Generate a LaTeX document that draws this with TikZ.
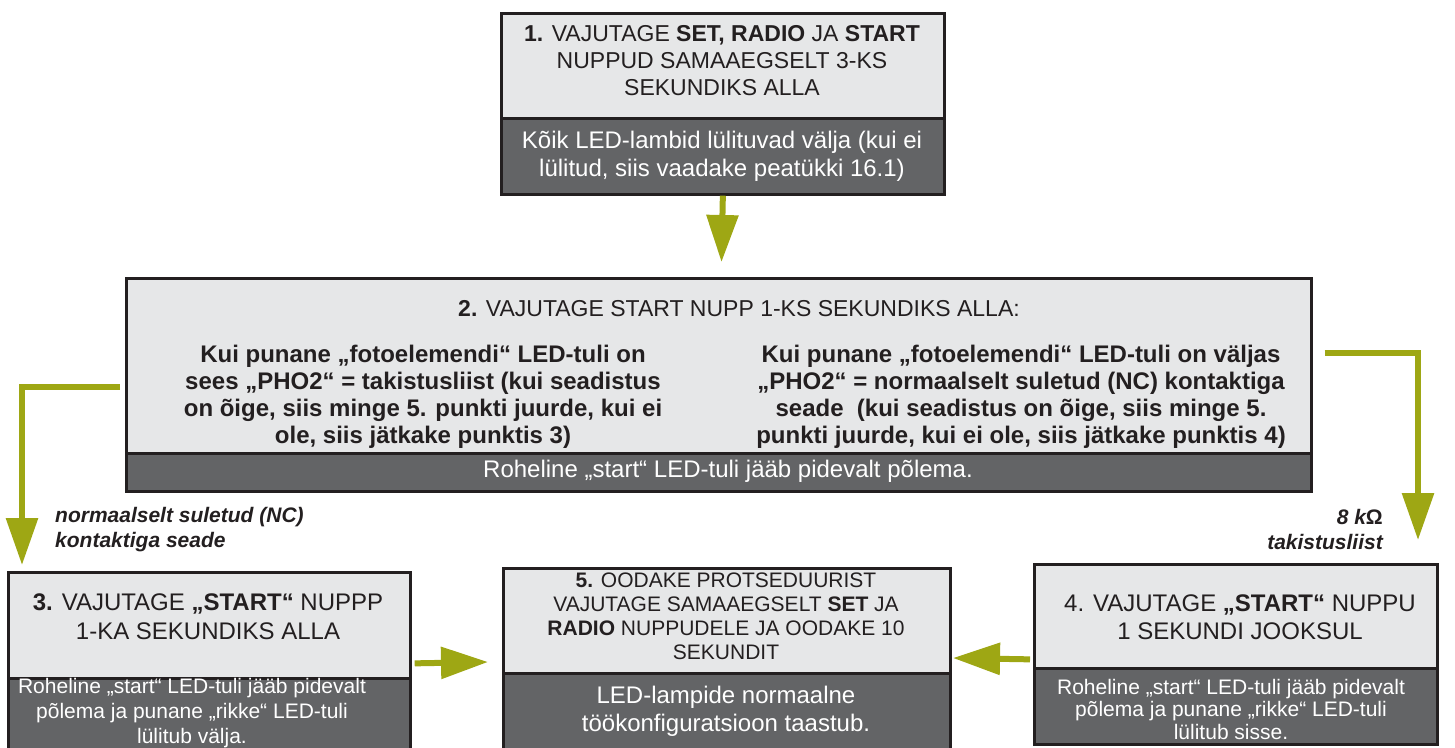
\documentclass[tikz,border=0pt]{standalone}
\usepackage{fontspec}
\setmainfont{Liberation Sans}
\usetikzlibrary{arrows.meta,calc}
\definecolor{lightfill}{RGB}{230,231,232}
\definecolor{darkfill}{RGB}{99,100,102}
\definecolor{framec}{RGB}{35,31,32}
\definecolor{olive}{RGB}{158,167,20}
\tikzset{
  boxpart/.style={draw=framec, line width=2.7pt, inner sep=0pt, anchor=north west},
  lightpart/.style={boxpart, fill=lightfill},
  darkpart/.style={boxpart, fill=darkfill},
  dtxt/.style={text=framec, align=center, inner sep=0pt},
  wtxt/.style={text=white, align=center, inner sep=0pt},
  lbl/.style={text=framec, inner sep=0pt, font=\fontsize{21}{25}\selectfont\bfseries\itshape},
  conn/.style={draw=olive, line width=6pt, -{Triangle[length=47pt,width=31pt]}},
}
\begin{document}
\begin{tikzpicture}[x=1pt,y=-1pt]
\useasboundingbox (0,0) rectangle (1455,747);
\clip (0,0) rectangle (1455,747);

% Box 1
\node[lightpart, minimum width=443pt, minimum height=181pt] (b1) at (500,12) {};
\node[darkpart, minimum width=443pt, minimum height=76pt] (b1d) at (500,117) {};
\node[dtxt, font=\fontsize{23}{27}\selectfont] (t1) at (722,61)
  {\textbf{1.} VAJUTAGE \textbf{SET, RADIO} JA \textbf{START}\\ NUPPUD SAMAAEGSELT 3-KS\\ SEKUNDIKS ALLA};
\node[wtxt, font=\fontsize{24}{28}\selectfont] (t1d) at (722,156)
  {Kõik LED-lambid lülituvad välja (kui ei\\ lülitud, siis vaadake peatükki 16.1)};

% Box 2
\node[lightpart, minimum width=1185pt, minimum height=213pt] (b2) at (125,277) {};
\node[darkpart, minimum width=1185pt, minimum height=38pt] (b2d) at (125,452) {};
\node[dtxt, font=\fontsize{23}{27}\selectfont] (t2) at (739,309)
  {\textbf{2.} VAJUTAGE START NUPP 1-KS SEKUNDIKS ALLA:};
\node[dtxt, font=\fontsize{24}{27}\selectfont\bfseries] (t2a) at (423,397)
  {Kui punane „fotoelemendi“ LED-tuli on\\ sees „PHO2“ = takistusliist (kui seadistus\\ on õige, siis minge 5. punkti juurde, kui ei\\ ole, siis jätkake punktis 3)};
\node[dtxt, font=\fontsize{24}{27}\selectfont\bfseries] (t2b) at (1021,397)
  {Kui punane „fotoelemendi“ LED-tuli on väljas\\ „PHO2“ = normaalselt suletud (NC) kontaktiga\\ seade\ \ (kui seadistus on õige, siis minge 5.\\ punkti juurde, kui ei ole, siis jätkake punktis 4)};
\node[wtxt, font=\fontsize{24}{28}\selectfont] (t2d) at (728,471)
  {Roheline „start“ LED-tuli jääb pidevalt põlema.};

% Box 3
\node[lightpart, minimum width=402pt, minimum height=189pt] (b3) at (7,571) {};
\node[darkpart, minimum width=402pt, minimum height=83pt] (b3d) at (7,677) {};
\node[dtxt, font=\fontsize{24}{29}\selectfont] (t3) at (208,617)
  {\textbf{3.} VAJUTAGE \textbf{„START“} NUPPP\\ 1-KA SEKUNDIKS ALLA};
\node[wtxt, font=\fontsize{21}{25}\selectfont] (t3d) at (192,713)
  {Roheline „start“ LED-tuli jääb pidevalt\\ põlema ja punane „rikke“ LED-tuli\\ lülitub välja.};

% Box 5
\node[lightpart, minimum width=447pt, minimum height=193pt] (b5) at (502,567) {};
\node[darkpart, minimum width=447pt, minimum height=88pt] (b5d) at (502,672) {};
\node[dtxt, font=\fontsize{21}{24}\selectfont] (t5) at (726,616)
  {\textbf{5.} OODAKE PROTSEDUURIST\\ VAJUTAGE SAMAAEGSELT \textbf{SET} JA\\ \textbf{RADIO} NUPPUDELE JA OODAKE 10\\ SEKUNDIT};
\node[wtxt, font=\fontsize{24}{28}\selectfont] (t5d) at (726,711)
  {LED-lampide normaalne\\ töökonfiguratsioon taastub.};

% Box 4
\node[lightpart, minimum width=403pt, minimum height=180pt] (b4) at (1033,563) {};
\node[darkpart, minimum width=403pt, minimum height=76pt] (b4d) at (1033,667) {};
\node[dtxt, font=\fontsize{24}{28}\selectfont] (t4) at (1240,617)
  {4. VAJUTAGE \textbf{„START“} NUPPU\\ 1 SEKUNDI JOOKSUL};
\node[wtxt, font=\fontsize{21}{22.5}\selectfont] (t4d) at (1231,709)
  {Roheline „start“ LED-tuli jääb pidevalt\\ põlema ja punane „rikke“ LED-tuli\\ lülitub sisse.};

% Labels
\node[lbl, anchor=west, align=left] (l3) at (55,529.5) {normaalselt suletud (NC)\\ kontaktiga seade};
\node[lbl, anchor=east, align=right] (l4) at (1383,529.5) {8 k{\upshape Ω}\\ takistusliist};

% Connector end points
\coordinate (c2) at (721.5,262);
\coordinate (c3) at (22,565);
\coordinate (c4) at (1418,540);
\coordinate (c35) at (488,662);
\coordinate (c45) at (953,658);

% Connectors
\draw[conn] (b1d.south) -- (c2);
\draw[conn] ($(b2.west)+(-5,2.5)$) -| (c3);
\draw[conn] ($(b2.north east)+(12,76)$) -| (c4);
\draw[conn] ($(b3.east)+(3,-3.5)$) -- (c35);
\draw[conn] ($(b4.west)+(-3,5)$) -- (c45);
\end{tikzpicture}
\end{document}
